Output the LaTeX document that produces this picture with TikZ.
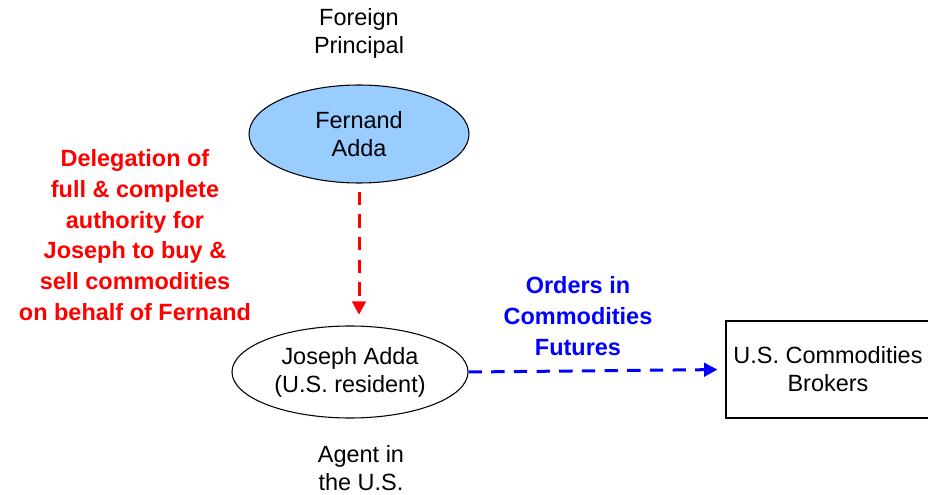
\documentclass[tikz,border=0pt]{standalone}
\usepackage{fontspec}
\setmainfont{Liberation Sans}
\usepackage{tikz}
\usetikzlibrary{arrows.meta,shapes,positioning}
\definecolor{lightblue}{RGB}{153,204,255}

\begin{document}
\begin{tikzpicture}[x=0.75pt,y=-0.75pt,thick]
        \tikzstyle{person} = [ellipse, draw, inner sep=0pt, align=center, font=\fontsize{17.6}{21}\selectfont]
        \tikzstyle{firm} = [rectangle, draw, inner sep=0pt, align=center, minimum width=153pt, minimum height=72.75pt, font=\fontsize{17.6}{21}\selectfont]
        \tikzstyle{caption} = [align=center, font=\fontsize{17.6}{21}\selectfont]
        \tikzstyle{note} = [align=center, font=\bfseries\fontsize{17.6}{23}\selectfont]
        \tikzstyle{link} = [line width=2.25pt, dash pattern=on 10pt off 7pt, -{Triangle[length=10pt,width=10pt]}]

        \useasboundingbox (0,0) rectangle (928,495);

        % Nodes
        \node[person, fill=lightblue, minimum width=165pt, minimum height=73.5pt] (fernand) at (359,134) {Fernand\\Adda};
        \node[person, minimum width=177pt, minimum height=69pt] (joseph) at (350,372) {Joseph Adda\\(U.S. resident)};
        \node[firm] (brokers) at (828,369.5) {U.S. Commodities\\Brokers};
        \node[caption] (principal) at (359,33) {Foreign\\Principal};
        \node[caption] (agent) at (361,468) {Agent in\\the U.S.};
        \node[note, text=red] (delegation) at (135,235) {Delegation of\\full \& complete\\authority for\\Joseph to buy \&\\sell commodities\\on behalf of Fernand};
        \node[note, text=blue] (orders) at (578,316) {Orders in\\Commodities\\Futures};

        % Edges
        \draw[link, red, shorten <=6pt, shorten >=8pt] (fernand.south) -- (fernand.south |- joseph.north);
        \draw[link, blue, shorten >=6pt] (joseph.east) -- (brokers.west);
    \end{tikzpicture}
\end{document}
